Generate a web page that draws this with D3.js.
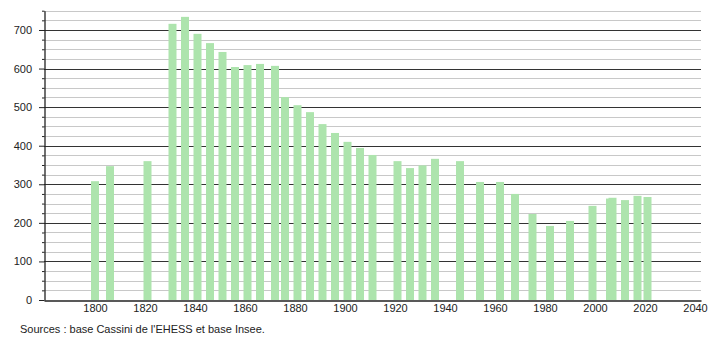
<!DOCTYPE html>
<html>
<head>
<meta charset="utf-8">
<script src="https://d3js.org/d3.v7.min.js"></script>
<style>
  body { margin: 0; background: #fff; }
  text { font-family: "Liberation Sans", Arial, sans-serif; }
</style>
</head>
<body>
<svg width="710" height="340"></svg>
<script>
// census years and population
var years = [1800, 1806, 1821, 1831, 1836, 1841, 1846, 1851, 1856, 1861, 1866, 1872, 1876,
  1881, 1886, 1891, 1896, 1901, 1906, 1911, 1921, 1926, 1931, 1936, 1946, 1954, 1962,
  1968, 1975, 1982, 1990, 1999, 2006, 2007, 2012, 2017, 2021];
var population = [308, 347, 360, 716, 734, 690, 666, 643, 604, 609, 612, 607, 526,
  505, 487, 456, 433, 410, 394, 376, 360, 342, 349, 366, 360, 306, 306,
  275, 223, 192, 205, 244, 263, 265, 259, 270, 267];
var xTicks = [1800, 1820, 1840, 1860, 1880, 1900, 1920, 1940, 1960, 1980, 2000, 2020, 2040];
var yTicks = [0, 100, 200, 300, 400, 500, 600, 700];
var source = "Sources : base Cassini de l'EHESS et base Insee.";

var svg = d3.select("svg");
var plotLeft = 44, plotRight = 701, plotTop = 10.7, plotBottom = 300;

var x = d3.scaleLinear().domain([1779.6, 2042.4]).range([plotLeft, plotRight]);
var y = d3.scaleLinear().domain([0, 750]).range([plotBottom, plotTop]);

// grid lines, every 25 (grey) and every 100 (dark)
var minor = d3.range(25, 751, 25).filter(function(d) { return d % 100 != 0; });
svg.append("g").selectAll("line")
  .data(minor)
  .enter().append("line")
  .attr("x1", plotLeft).attr("x2", plotRight)
  .attr("y1", function(d) { return Math.round(y(d)) + 0.5; })
  .attr("y2", function(d) { return Math.round(y(d)) + 0.5; })
  .attr("stroke", "#c8c8c8");
svg.append("g").selectAll("line")
  .data(yTicks.slice(1))
  .enter().append("line")
  .attr("x1", plotLeft).attr("x2", plotRight)
  .attr("y1", function(d) { return Math.round(y(d)) + 0.5; })
  .attr("y2", function(d) { return Math.round(y(d)) + 0.5; })
  .attr("stroke", "#333");

// bars
svg.append("g").selectAll("rect")
  .data(years)
  .enter().append("rect")
  .attr("x", function(d) { return x(d) - 4; })
  .attr("width", 8)
  .attr("y", function(d, i) { return y(population[i]); })
  .attr("height", function(d, i) { return plotBottom - y(population[i]); })
  .attr("fill", "#ade4ad");

// y axis with minor ticks
svg.append("g")
  .attr("transform", "translate(" + (plotLeft + 0.5) + ",0)")
  .call(d3.axisLeft(y).tickValues(minor).tickSize(2.5).tickFormat(""))
  .call(function(g) { g.select(".domain").remove(); })
  .selectAll("line").attr("stroke", "#222");
var ya = svg.append("g")
  .attr("transform", "translate(" + (plotLeft + 0.5) + ",0)")
  .call(d3.axisLeft(y).tickValues(yTicks).tickSize(5.5).tickSizeOuter(0).tickPadding(7));
ya.select(".domain").attr("stroke", "#222").attr("stroke-width", 1.3);
ya.selectAll("line").attr("stroke", "#222");
ya.selectAll("text").attr("font-size", "11px").attr("fill", "#222")
  .style("font-family", "'Liberation Sans', Arial, sans-serif");

// x axis
var xa = svg.append("g")
  .attr("transform", "translate(0," + (plotBottom + 0.5) + ")")
  .call(d3.axisBottom(x).tickValues(xTicks).tickSize(0).tickSizeOuter(0).tickPadding(4)
    .tickFormat(d3.format("d")));
xa.select(".domain").attr("stroke", "#222").attr("stroke-width", 1.3);
xa.selectAll("text").attr("font-size", "11px").attr("fill", "#222")
  .style("font-family", "'Liberation Sans', Arial, sans-serif");

svg.append("text")
  .attr("x", 20)
  .attr("y", 333)
  .attr("font-size", "11px")
  .attr("fill", "#222")
  .text(source);
</script>
</body>
</html>
